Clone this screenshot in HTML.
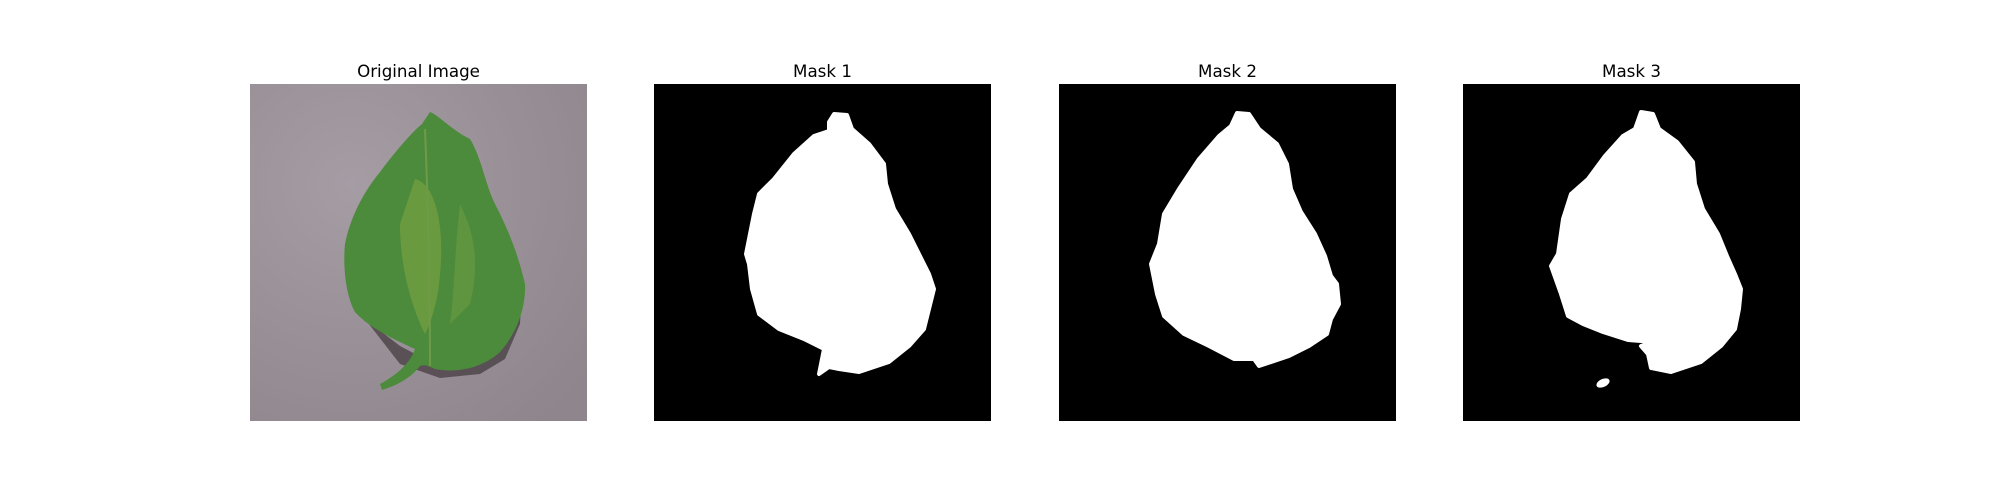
<!DOCTYPE html>
<html><head><meta charset="utf-8"><style>
body{margin:0;background:#fff;width:2000px;height:500px;overflow:hidden;font-family:"DejaVu Sans","Liberation Sans",sans-serif}
.t{position:absolute;font-size:16.7px;color:#000;width:337px;text-align:center;top:61px}
svg{position:absolute;top:84px}
</style></head><body>
<div class="t" style="left:250px">Original Image</div>
<div class="t" style="left:654px">Mask 1</div>
<div class="t" style="left:1059px">Mask 2</div>
<div class="t" style="left:1463px">Mask 3</div>

<svg style="left:250px" width="337" height="337" viewBox="0 0 337 337">
<defs><radialGradient id="bg" cx="0.3" cy="0.3" r="0.9"><stop offset="0" stop-color="#a59ca4"/><stop offset="1" stop-color="#8f858c"/></radialGradient></defs>
<rect width="337" height="337" fill="url(#bg)"/>
<path d="M228,82 C240,110 250,140 262,170 L272,200 L270,240 L255,275 L230,290 L190,294 L150,280 L115,235 L150,262 L190,283 L240,275 L265,240 L265,200 L250,160 Z" fill="#463c42" opacity="0.75"/>
<path d="M180,28 C190,32 200,45 220,55 C232,75 235,100 245,120 C258,145 268,170 275,200 C276,225 266,250 250,268 C235,282 210,290 185,285 C178,282 175,280 170,282 C160,295 145,302 132,306 L130,300 C145,292 160,280 165,265 C150,258 120,245 105,228 C95,210 93,180 95,160 C100,135 112,110 130,88 C145,68 162,48 172,40 Z" fill="#4c8a3c"/>
<path d="M165,95 C185,100 195,140 190,190 C188,220 180,240 175,250 C160,220 150,180 150,140 Z" fill="#7ea543" opacity="0.6"/>
<path d="M210,120 C225,150 230,180 220,220 L200,240 C205,200 205,160 210,120 Z" fill="#72a040" opacity="0.5"/>
<path d="M175,45 C178,120 180,200 180,282" stroke="#6f9a48" stroke-width="2" fill="none"/>
</svg>

<svg style="left:654px" width="337" height="337" viewBox="0 0 337 337">
<rect width="337" height="337" fill="#000"/>
<path d="M180,30 L193,31 L198,45 L215,60 L230,80 L232,100 L240,125 L255,150 L265,170 L275,190 L280,205 L275,225 L270,245 L255,262 L235,278 L205,288 L185,285 L175,283 L165,290 L170,265 L150,255 L125,245 L105,230 L98,205 L95,180 L92,170 L100,130 L105,110 L120,95 L140,70 L160,52 L175,47 L175,38 Z" fill="#fff" stroke="#fff" stroke-width="4" stroke-linejoin="round"/>
</svg>

<svg style="left:1059px" width="337" height="337" viewBox="0 0 337 337">
<rect width="337" height="337" fill="#000"/>
<path d="M178,29 L190,30 L200,45 L218,60 L228,80 L232,105 L242,128 L256,150 L266,172 L272,192 L278,200 L280,220 L272,235 L268,250 L250,262 L230,272 L200,282 L195,275 L175,275 L150,262 L125,250 L105,232 L98,210 L92,180 L100,160 L105,130 L120,105 L140,75 L160,52 L172,42 Z" fill="#fff" stroke="#fff" stroke-width="4" stroke-linejoin="round"/>
</svg>

<svg style="left:1463px" width="337" height="337" viewBox="0 0 337 337">
<rect width="337" height="337" fill="#000"/>
<path d="M178,28 L190,30 L196,45 L214,58 L230,78 L232,100 L240,125 L255,150 L264,172 L272,190 L278,205 L276,225 L272,245 L258,262 L238,278 L208,288 L188,284 L185,270 L178,262 L190,258 L165,256 L140,248 L120,240 L105,232 L98,210 L88,182 L95,170 L100,135 L108,110 L125,95 L142,72 L160,52 L172,45 Z" fill="#fff" stroke="#fff" stroke-width="4" stroke-linejoin="round"/>
<ellipse cx="140" cy="299" rx="7" ry="4" fill="#fff" transform="rotate(-25 140 299)"/>
</svg>
</body></html>
